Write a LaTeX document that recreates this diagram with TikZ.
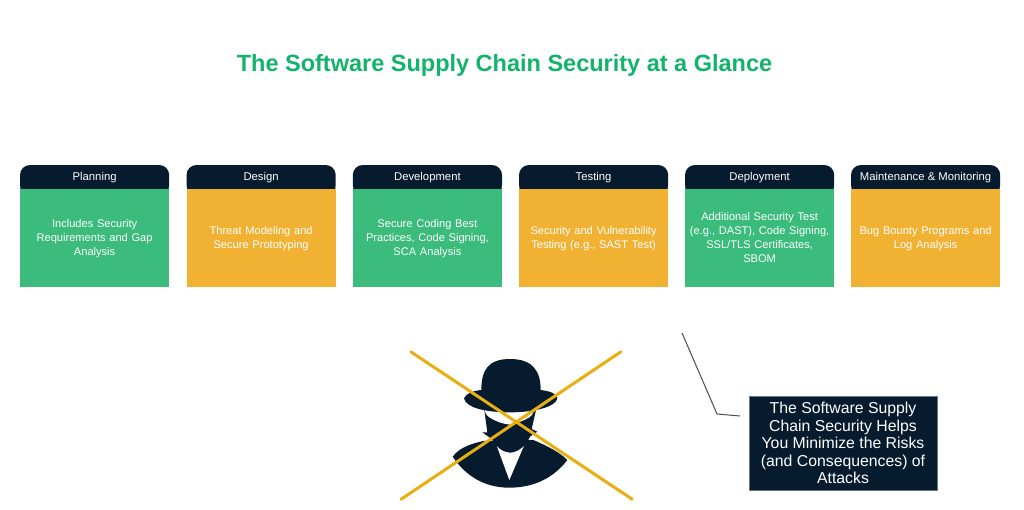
\documentclass[tikz,border=0pt]{standalone}
\usepackage{fontspec}
\setmainfont{Liberation Sans}
\definecolor{navy}{HTML}{061B2E}
\definecolor{cardgreen}{HTML}{3BBB7C}
\definecolor{cardamber}{HTML}{F1B233}
\definecolor{titlegreen}{HTML}{12B36A}
\definecolor{crossamber}{HTML}{E8AE12}
\definecolor{leader}{HTML}{4A4A5A}
\tikzset{
  headlabel/.style={text=white,font=\fontsize{11.3}{14}\selectfont,inner sep=0pt,anchor=center},
  bodylabel/.style={text=white,font=\fontsize{11.1}{14}\selectfont,align=center,inner sep=0pt,anchor=center,text width=144pt},
  crossline/.style={draw=crossamber,line width=3pt,line cap=round},
}
\newcommand{\card}[5]{% id, left x, colour, title, body
  \fill[#3] (#2,187) rectangle ++(149.2,100);
  \fill[navy,rounded corners=10pt] (#2,195) -- (#2,165) -- (#2+149.2,165) -- (#2+149.2,195) -- cycle;
  \fill[#3] (#2,188.5) rectangle ++(149.2,10);
  \node[headlabel] (#1h) at (#2+74.6,177.5) {#4};
  \node[bodylabel] (#1b) at (#2+74.6,#5;
}
\begin{document}
\begin{tikzpicture}[x=1pt,y=-1pt]
\useasboundingbox (0,0) rectangle (1024,509);
\fill[white] (0,0) rectangle (1024,509);
\node[text=titlegreen,font=\bfseries\fontsize{23.5}{28}\selectfont,inner sep=0pt] (title) at (504.5,65.5) {The Software Supply Chain Security at a Glance};

\card{a}{20}{cardgreen}{Planning}{238.5) {Includes Security\\Requirements and Gap\\Analysis}}
\card{b}{186.5}{cardamber}{Design}{238.5) {Threat Modeling and\\Secure Prototyping}}
\card{c}{352.8}{cardgreen}{Development}{238.5) {Secure Coding Best\\Practices, Code Signing,\\SCA Analysis}}
\card{d}{519}{cardamber}{Testing}{238.5) {Security and Vulnerability\\Testing (e.g., SAST Test)}}
\card{e}{685}{cardgreen}{Deployment}{237.5) {Additional Security Test\\(e.g., DAST), Code Signing,\\SSL/TLS Certificates,\\SBOM}}
\card{f}{851}{cardamber}{Maintenance \& Monitoring}{238.5) {Bug Bounty Programs and\\Log Analysis}}

% hacker figure
\begin{scope}[shift={(450,355)},x=0.3333pt,y=-0.3333pt]
  % body
  \fill[navy] (8,305) .. controls (30,275) and (70,265) .. (100,258)
    -- (250,255)
    .. controls (290,272) and (330,292) .. (352,315)
    .. controls (310,370) and (250,398) .. (178,398)
    .. controls (100,398) and (45,360) .. (8,305) -- cycle;
  % shirt
  \fill[white] (140,272) -- (222,272) -- (178,375) -- cycle;
  % face
  \fill[navy] (103,165) -- (112,232) -- (97,232) -- (125,252)
    .. controls (140,278) and (160,292) .. (180,293)
    .. controls (200,292) and (225,278) .. (240,245)
    -- (262,230) -- (245,222) -- (258,165) -- cycle;
  % eyes
  \fill[white] (103,165) .. controls (108,178) and (112,185) .. (118,187)
    .. controls (135,198) and (155,206) .. (180,209)
    .. controls (205,204) and (225,195) .. (238,187)
    .. controls (244,184) and (248,178) .. (252,165) -- cycle;
  % hat
  \fill[navy] (42,130) .. controls (48,115) and (70,107) .. (94,105)
    .. controls (94,45) and (115,12) .. (180,12)
    .. controls (250,12) and (272,50) .. (272,105)
    .. controls (298,108) and (320,115) .. (322,130)
    .. controls (318,155) and (255,172) .. (180,172)
    .. controls (105,172) and (48,158) .. (42,130) -- cycle;
\end{scope}
\coordinate (x1) at (410.7,351.7);
\coordinate (x2) at (632.3,499.3);
\coordinate (x3) at (621,351.7);
\coordinate (x4) at (401,499.3);
\draw[crossline] (x1) -- (x2);
\draw[crossline] (x3) -- (x4);

% callout
\node[fill=navy,draw=navy!60!white,line width=0.5pt,minimum width=188pt,minimum height=94pt,inner sep=0pt,text=white,align=center,font=\fontsize{15.8}{17.6}\selectfont] (callout) at (843,443) {The Software Supply\\Chain Security Helps\\You Minimize the Risks\\(and Consequences) of\\Attacks};
\coordinate (l1) at (682,333);
\coordinate (l2) at (717,414);
\coordinate (l3) at (740,416);
\draw[leader,line width=1pt] (l1) -- (l2) -- (l3);
\end{tikzpicture}
\end{document}
